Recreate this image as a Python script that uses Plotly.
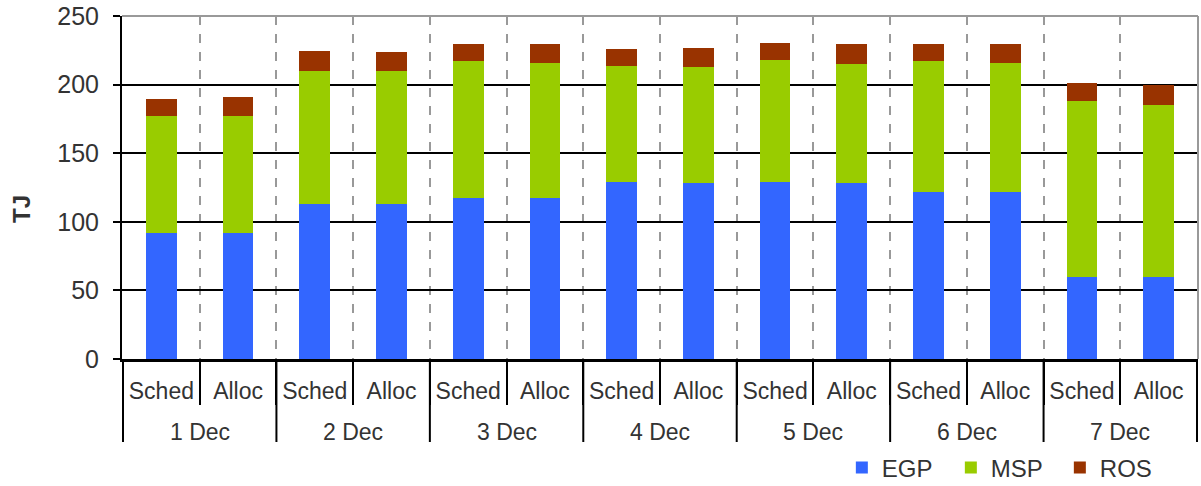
import plotly.graph_objects as go

dates = ["1 Dec", "2 Dec", "3 Dec", "4 Dec", "5 Dec", "6 Dec", "7 Dec"]
kinds = ["Sched", "Alloc"]

egp = [92, 92, 113, 113, 117, 117, 129, 128, 129, 128, 122, 122, 60, 60]
msp = [85, 85, 97, 97, 100, 99, 84.5, 84.5, 88.7, 87.3, 95, 93.4, 128, 125.3]
ros = [12.4, 13.7, 14.4, 14.1, 12.6, 13.8, 12.7, 14, 12.6, 14, 12.6, 14, 13.1, 14.2]

ids = [f"{d} {k}" for d in dates for k in kinds]
inner = [k for _ in dates for k in kinds]

FONT = "Liberation Sans, Arial, sans-serif"
TXT = "#333333"

W, H = 1201, 486
ML, MR, MT, MB = 122, 3, 16, 127
PH = H - MT - MB  # plot height in px
PW = W - ML - MR  # plot width in px

fig = go.Figure()
for name, vals, col in [("EGP", egp, "#3366FF"), ("MSP", msp, "#99CC00"), ("ROS", ros, "#993300")]:
    fig.add_trace(go.Bar(x=ids, y=vals, name=name,
                         marker=dict(color=col, line=dict(width=0))))

fig.update_layout(
    barmode="stack",
    bargap=0.6,
    width=W, height=H,
    margin=dict(l=ML, r=MR, t=MT, b=MB, autoexpand=False),
    paper_bgcolor="white", plot_bgcolor="white",
    font=dict(family=FONT, size=23, color=TXT),
    showlegend=True,
    legend=dict(orientation="h", x=0.669, xanchor="left", y=-109 / PH, yanchor="middle",
                font=dict(size=24, color=TXT), entrywidth=64, entrywidthmode="pixels",
                traceorder="normal", bgcolor="rgba(0,0,0,0)"),
)

fig.update_yaxes(
    range=[0, 250], tickvals=[0, 50, 100, 150, 200, 250],
    showgrid=True, gridcolor="black", gridwidth=1.8,
    showline=True, linecolor="black", linewidth=2,
    ticks="outside", ticklen=7, tickcolor="black", tickwidth=1.5,
    tickfont=dict(size=25, color=TXT), ticklabelstandoff=9,
    ticklabeloverflow="allow",
    zeroline=False, automargin=False,
)
fig.update_xaxes(
    type="category",
    tickvals=ids, ticktext=inner,
    tickson="boundaries",
    tickangle=0,
    showgrid=True, gridcolor="#999999", gridwidth=1.5, griddash="dash",
    showline=True, linecolor="black", linewidth=3,
    ticks="outside", ticklen=43, tickcolor="black", tickwidth=2,
    ticklabelstandoff=9, ticklabeloverflow="allow",
    tickfont=dict(size=23, color=TXT), automargin=False,
)

# gray frame on top and right
fig.add_shape(type="line", xref="paper", yref="paper", x0=0, x1=1, y0=1, y1=1,
              line=dict(color="#999999", width=2), layer="above")
fig.add_shape(type="line", xref="paper", yref="paper", x0=1, x1=1, y0=0, y1=1,
              line=dict(color="#999999", width=2), layer="above")

# outer group dividers and labels
n = len(kinds)
for i in range(len(dates) + 1):
    fig.add_shape(type="line", xref="x", yref="paper",
                  x0=i * n - 0.5, x1=i * n - 0.5, y0=0, y1=-83 / PH,
                  line=dict(color="black", width=2))
for i, d in enumerate(dates):
    fig.add_annotation(text=d, xref="x", yref="paper", x=i * n + (n - 1) / 2,
                       y=-73 / PH, yanchor="middle", showarrow=False,
                       font=dict(size=23, color=TXT))

# y-axis title
fig.add_annotation(text="<b>TJ</b>", xref="paper", yref="paper",
                   x=-(122 - 21) / PW, xanchor="center",
                   y=(359 - 209) / PH, yanchor="middle", textangle=-90,
                   showarrow=False, font=dict(size=24, color=TXT))

fig.write_html("out.html", config={"displayModeBar": False},
               post_script="document.body.style.margin='0';document.body.style.overflow='hidden';")
